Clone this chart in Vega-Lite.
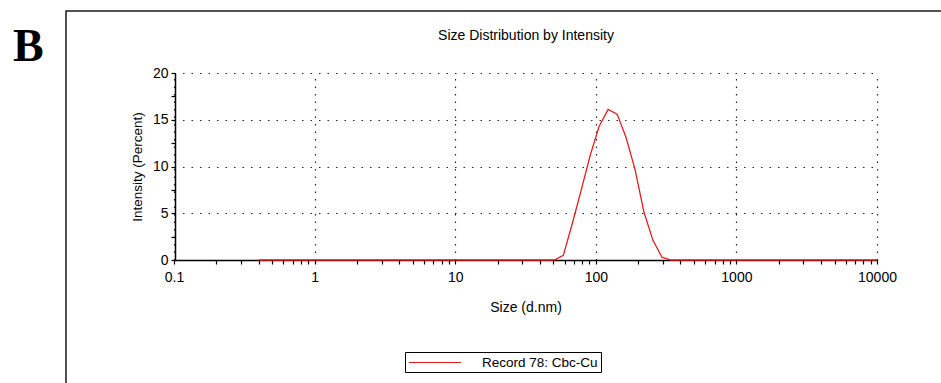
{
  "$schema": "https://vega.github.io/schema/vega-lite/v6.json",
  "autosize": {"type": "none"},
  "width": 880,
  "height": 380,
  "padding": {"left": 66, "top": 11, "right": 0, "bottom": 0},
  "background": "white",
  "config": {
    "view": {"stroke": "#1a1a1a", "strokeWidth": 1.5},
    "font": "Liberation Sans",
    "axis": {"labelFont": "Liberation Sans", "titleFont": "Liberation Sans", "labelColor": "black", "titleColor": "black", "titleFontWeight": "normal", "domainColor": "black", "tickColor": "black"}
  },
  "title": {"text": "B", "anchor": "start", "frame": "group", "font": "Liberation Serif", "fontSize": 46, "fontWeight": "bold", "color": "black", "dx": -53, "dy": 96, "baseline": "alphabetic", "offset": 0},
  "data": {"values": [
    {"size": 0.4, "intensity": 0, "series": "Record 78: Cbc-Cu"},
    {"size": 0.4632, "intensity": 0, "series": "Record 78: Cbc-Cu"},
    {"size": 0.5365, "intensity": 0, "series": "Record 78: Cbc-Cu"},
    {"size": 0.6213, "intensity": 0, "series": "Record 78: Cbc-Cu"},
    {"size": 0.7195, "intensity": 0, "series": "Record 78: Cbc-Cu"},
    {"size": 0.8332, "intensity": 0, "series": "Record 78: Cbc-Cu"},
    {"size": 0.9649, "intensity": 0, "series": "Record 78: Cbc-Cu"},
    {"size": 1.117, "intensity": 0, "series": "Record 78: Cbc-Cu"},
    {"size": 1.294, "intensity": 0, "series": "Record 78: Cbc-Cu"},
    {"size": 1.499, "intensity": 0, "series": "Record 78: Cbc-Cu"},
    {"size": 1.736, "intensity": 0, "series": "Record 78: Cbc-Cu"},
    {"size": 2.01, "intensity": 0, "series": "Record 78: Cbc-Cu"},
    {"size": 2.328, "intensity": 0, "series": "Record 78: Cbc-Cu"},
    {"size": 2.696, "intensity": 0, "series": "Record 78: Cbc-Cu"},
    {"size": 3.122, "intensity": 0, "series": "Record 78: Cbc-Cu"},
    {"size": 3.615, "intensity": 0, "series": "Record 78: Cbc-Cu"},
    {"size": 4.187, "intensity": 0, "series": "Record 78: Cbc-Cu"},
    {"size": 4.849, "intensity": 0, "series": "Record 78: Cbc-Cu"},
    {"size": 5.615, "intensity": 0, "series": "Record 78: Cbc-Cu"},
    {"size": 6.503, "intensity": 0, "series": "Record 78: Cbc-Cu"},
    {"size": 7.531, "intensity": 0, "series": "Record 78: Cbc-Cu"},
    {"size": 8.721, "intensity": 0, "series": "Record 78: Cbc-Cu"},
    {"size": 10.1, "intensity": 0, "series": "Record 78: Cbc-Cu"},
    {"size": 11.7, "intensity": 0, "series": "Record 78: Cbc-Cu"},
    {"size": 13.54, "intensity": 0, "series": "Record 78: Cbc-Cu"},
    {"size": 15.69, "intensity": 0, "series": "Record 78: Cbc-Cu"},
    {"size": 18.17, "intensity": 0, "series": "Record 78: Cbc-Cu"},
    {"size": 21.04, "intensity": 0, "series": "Record 78: Cbc-Cu"},
    {"size": 24.36, "intensity": 0, "series": "Record 78: Cbc-Cu"},
    {"size": 28.21, "intensity": 0, "series": "Record 78: Cbc-Cu"},
    {"size": 32.67, "intensity": 0, "series": "Record 78: Cbc-Cu"},
    {"size": 37.84, "intensity": 0, "series": "Record 78: Cbc-Cu"},
    {"size": 43.82, "intensity": 0, "series": "Record 78: Cbc-Cu"},
    {"size": 50.75, "intensity": 0, "series": "Record 78: Cbc-Cu"},
    {"size": 58.77, "intensity": 0.5, "series": "Record 78: Cbc-Cu"},
    {"size": 68.06, "intensity": 3.9, "series": "Record 78: Cbc-Cu"},
    {"size": 78.82, "intensity": 7.5, "series": "Record 78: Cbc-Cu"},
    {"size": 91.28, "intensity": 11.2, "series": "Record 78: Cbc-Cu"},
    {"size": 105.7, "intensity": 14.3, "series": "Record 78: Cbc-Cu"},
    {"size": 122.4, "intensity": 16.1, "series": "Record 78: Cbc-Cu"},
    {"size": 141.8, "intensity": 15.6, "series": "Record 78: Cbc-Cu"},
    {"size": 164.2, "intensity": 13.1, "series": "Record 78: Cbc-Cu"},
    {"size": 190.1, "intensity": 9.7, "series": "Record 78: Cbc-Cu"},
    {"size": 220.2, "intensity": 5.1, "series": "Record 78: Cbc-Cu"},
    {"size": 255.0, "intensity": 2.1, "series": "Record 78: Cbc-Cu"},
    {"size": 295.3, "intensity": 0.3, "series": "Record 78: Cbc-Cu"},
    {"size": 342.0, "intensity": 0, "series": "Record 78: Cbc-Cu"},
    {"size": 396.1, "intensity": 0, "series": "Record 78: Cbc-Cu"},
    {"size": 458.7, "intensity": 0, "series": "Record 78: Cbc-Cu"},
    {"size": 531.2, "intensity": 0, "series": "Record 78: Cbc-Cu"},
    {"size": 615.1, "intensity": 0, "series": "Record 78: Cbc-Cu"},
    {"size": 712.4, "intensity": 0, "series": "Record 78: Cbc-Cu"},
    {"size": 825.0, "intensity": 0, "series": "Record 78: Cbc-Cu"},
    {"size": 955.4, "intensity": 0, "series": "Record 78: Cbc-Cu"},
    {"size": 1106, "intensity": 0, "series": "Record 78: Cbc-Cu"},
    {"size": 1281, "intensity": 0, "series": "Record 78: Cbc-Cu"},
    {"size": 1484, "intensity": 0, "series": "Record 78: Cbc-Cu"},
    {"size": 1718, "intensity": 0, "series": "Record 78: Cbc-Cu"},
    {"size": 1990, "intensity": 0, "series": "Record 78: Cbc-Cu"},
    {"size": 2305, "intensity": 0, "series": "Record 78: Cbc-Cu"},
    {"size": 2669, "intensity": 0, "series": "Record 78: Cbc-Cu"},
    {"size": 3091, "intensity": 0, "series": "Record 78: Cbc-Cu"},
    {"size": 3580, "intensity": 0, "series": "Record 78: Cbc-Cu"},
    {"size": 4145, "intensity": 0, "series": "Record 78: Cbc-Cu"},
    {"size": 4801, "intensity": 0, "series": "Record 78: Cbc-Cu"},
    {"size": 5560, "intensity": 0, "series": "Record 78: Cbc-Cu"},
    {"size": 6439, "intensity": 0, "series": "Record 78: Cbc-Cu"},
    {"size": 7456, "intensity": 0, "series": "Record 78: Cbc-Cu"},
    {"size": 8635, "intensity": 0, "series": "Record 78: Cbc-Cu"},
    {"size": 10000, "intensity": 0, "series": "Record 78: Cbc-Cu"}
  ]},
  "layer": [
    {
      "mark": {"type": "line", "opacity": 0},
      "encoding": {
        "x": {"field": "size", "type": "quantitative",
          "scale": {"type": "log", "domain": [0.1, 10000], "range": [108, 811], "nice": false},
          "axis": {"orient": "top", "offset": -24, "values": [0.1, 1, 10, 100, 1000, 10000], "grid": true, "gridColor": "#222", "gridDash": [1.5, 6], "gridWidth": 1.2, "gridOpacity": 1, "domain": false, "ticks": false, "labels": false,
            "title": "Size Distribution by Intensity", "titleFontSize": 14, "titleY": 0, "titleBaseline": "middle", "titleAnchor": "middle"}},
        "y": {"field": "intensity", "type": "quantitative",
          "scale": {"domain": [0, 20], "range": [249, 62], "nice": false, "zero": true},
          "axis": {"orient": "left", "values": [5, 10, 15, 20], "grid": true, "gridColor": "#222", "gridDash": [1.5, 7], "gridWidth": 1.2, "gridOpacity": 1, "domain": false, "ticks": false, "labels": false, "title": null}}
      }
    },
    {
      "mark": {"type": "line", "strokeWidth": 1.3, "interpolate": "linear"},
      "encoding": {
        "x": {"field": "size", "type": "quantitative",
          "axis": {"orient": "bottom", "offset": -131, "grid": false,
            "values": [0.1, 0.2, 0.3, 0.4, 0.5, 0.6, 0.7, 0.8, 0.9, 1, 2, 3, 4, 5, 6, 7, 8, 9, 10, 20, 30, 40, 50, 60, 70, 80, 90, 100, 200, 300, 400, 500, 600, 700, 800, 900, 1000, 2000, 3000, 4000, 5000, 6000, 7000, 8000, 9000, 10000],
            "format": "~g", "labelExpr": "indexof([0.1, 1, 10, 100, 1000, 10000], datum.value) >= 0 ? datum.label : ''",
            "labelOverlap": false, "labelFlush": false, "labelFontSize": 14, "labelPadding": 6,
            "tickSize": 4, "tickWidth": 1.2, "domainWidth": 1.5,
            "title": "Size (d.nm)", "titleFontSize": 14, "titlePadding": 16}},
        "y": {"field": "intensity", "type": "quantitative",
          "axis": {"orient": "left", "offset": -109, "grid": false,
            "values": [0, 2.5, 5, 7.5, 10, 12.5, 15, 17.5, 20],
            "labelExpr": "datum.value % 5 == 0 ? datum.label : ''",
            "labelOverlap": false, "labelFlush": false, "labelFontSize": 14, "labelPadding": 3,
            "tickSize": 4, "tickWidth": 1.2, "domainWidth": 1.5,
            "title": "Intensity (Percent)", "titleFontSize": 13.5, "titlePadding": 8}},
        "color": {"field": "series", "type": "nominal",
          "scale": {"range": ["#e0201f"]},
          "legend": {"orient": "none", "legendX": 339, "legendY": 341, "title": null, "padding": 3, "strokeColor": "black", "fillColor": "white",
            "symbolType": "M-1,0H7", "symbolSize": 169, "symbolStrokeWidth": 1.2, "labelFontSize": 13.5, "labelColor": "black", "labelOffset": 59}}
      }
    }
  ],
  "resolve": {"axis": {"x": "independent", "y": "independent"}}
}
